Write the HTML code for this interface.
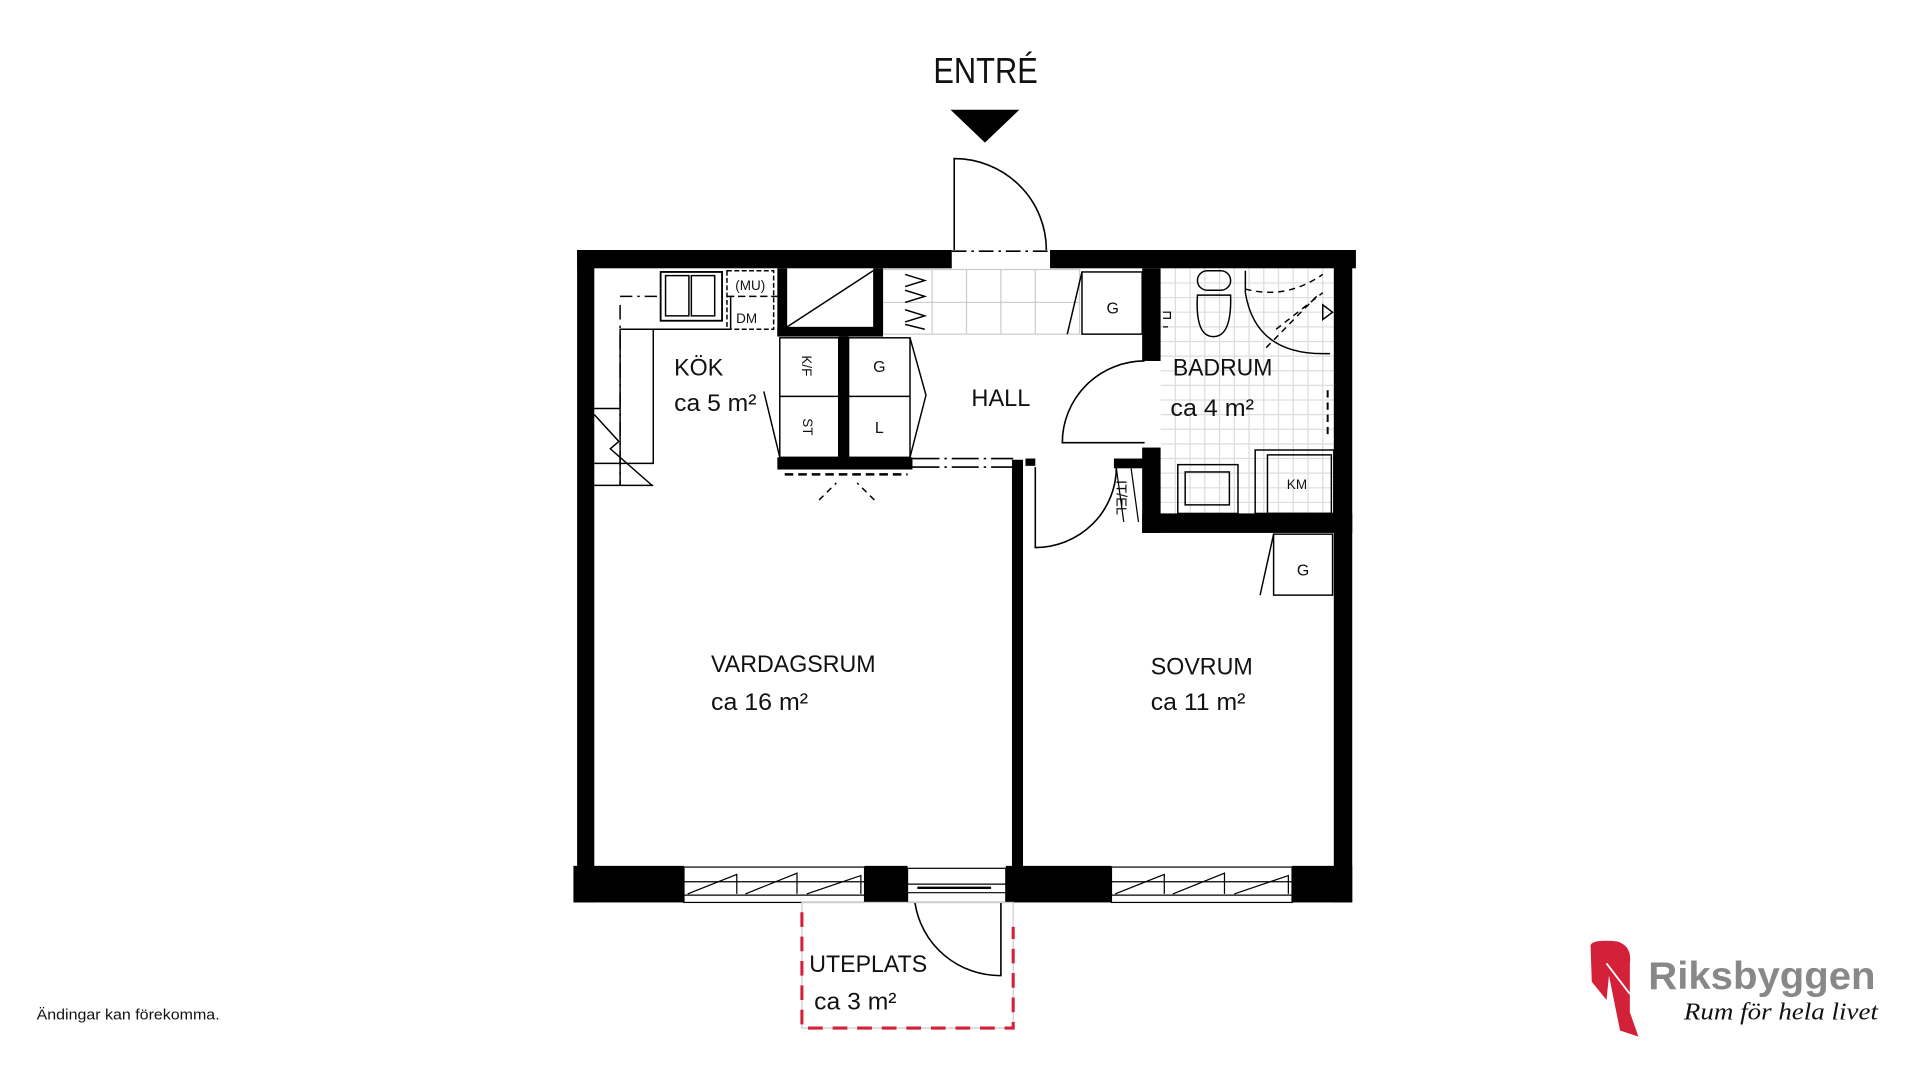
<!DOCTYPE html>
<html><head><meta charset="utf-8">
<style>
html,body{margin:0;padding:0;background:#fff;}
svg{display:block;}
text{font-family:"Liberation Sans Narrow","Liberation Sans",sans-serif;fill:#111;}
</style></head>
<body>
<svg width="1920" height="1080" viewBox="3.2 0 1563 885.6" preserveAspectRatio="none" xmlns="http://www.w3.org/2000/svg">
<rect x="0" y="0" width="1570" height="890" fill="#fff"/>

<text x="763" y="68" font-size="30" textLength="85" lengthAdjust="spacingAndGlyphs">ENTRÉ</text>
<polygon points="777,90 833,90 805,117" fill="#000"/>

<g stroke="#ccc" stroke-width="1" fill="none">
<rect x="722" y="221" width="160" height="53"/>
<line x1="722" y1="248" x2="882" y2="248"/>
<line x1="762" y1="221" x2="762" y2="274"/><line x1="790" y1="221" x2="790" y2="274"/>
<line x1="818" y1="221" x2="818" y2="274"/><line x1="846" y1="221" x2="846" y2="274"/>
</g>
<g stroke="#ddd" stroke-width="1">
<path d="M948 232H1089M948 244H1089M948 256H1089M948 268H1089M948 280H1089M948 292H1089M948 304H1089M948 316H1089M948 328H1089M948 340H1089M948 352H1089M948 364H1089M948 376H1089M948 388H1089M948 400H1089M948 412H1089"/>
<path d="M960 220V421M972 220V421M984 220V421M996 220V421M1008 220V421M1020 220V421M1032 220V421M1044 220V421M1056 220V421M1068 220V421M1080 220V421"/>
</g>

<g fill="#000">
<rect x="473" y="205" width="305" height="15"/>
<rect x="858" y="205" width="249" height="15"/>
<rect x="473" y="205" width="14" height="535"/>
<rect x="1089" y="205" width="15" height="535"/>
<rect x="470" y="710" width="90" height="30"/>
<rect x="707" y="710" width="35" height="30"/>
<rect x="822" y="710" width="86" height="30"/>
<rect x="1055" y="710" width="49" height="30"/>
<rect x="827" y="377" width="9" height="335"/>
<rect x="933" y="220" width="15" height="76"/>
<rect x="933" y="367" width="15" height="70"/>
<rect x="933" y="421" width="171" height="16"/>
<rect x="910" y="376" width="25" height="8"/>
<rect x="636" y="220" width="8" height="55"/>
<rect x="714" y="220" width="8" height="55"/>
<rect x="636" y="268" width="86" height="8"/>
<rect x="686" y="276" width="8" height="100"/>
<rect x="636" y="375" width="110" height="10"/>
<rect x="838" y="376" width="8" height="6"/>
</g>

<g fill="#fff" stroke="#000" stroke-width="1">
<rect x="560" y="711" width="147" height="29"/>
<rect x="908" y="711" width="147" height="29"/>
<rect x="742" y="712" width="80" height="28"/>
</g>
<g stroke="#000" stroke-width="1" fill="none">
<line x1="560" y1="723" x2="707" y2="723"/><line x1="560" y1="734" x2="707" y2="734"/>
<path d="M563 733L603 717V733M610 733L652 716V733M660 733L704 718V733"/>
<line x1="908" y1="723" x2="1055" y2="723"/><line x1="908" y1="734" x2="1055" y2="734"/>
<path d="M911 733L951 717V733M958 733L1000 716V733M1008 733L1052 718V733"/>
<line x1="742" y1="725" x2="822" y2="725"/><line x1="742" y1="732" x2="822" y2="732"/>
<line x1="750" y1="728" x2="810" y2="728" stroke-width="2"/>
</g>

<g stroke="#000" stroke-width="1.3" fill="none">
<path d="M780 205V130A75 75 0 0 1 855 205"/>
<line x1="778" y1="206" x2="858" y2="206" stroke-dasharray="12 4 2 4"/>
<path d="M935 363H868A67 67 0 0 1 935 296"/>
<path d="M846 383V449A66 66 0 0 0 912 383"/>
<path d="M818 740V800A70 70 0 0 1 748 740"/>
<line x1="746" y1="376" x2="828" y2="376" stroke-dasharray="22 4 2 4"/>
<line x1="746" y1="383" x2="828" y2="383" stroke-dasharray="22 4 2 4"/>
</g>

<g stroke="#000" stroke-width="1.2" fill="none">
<path d="M508 398V270H598V243"/>
<path d="M487 335H508M487 380H535V270M487 398H535"/>
<path d="M487 340L507 362L500 368L534 398" />
<line x1="508" y1="243" x2="540" y2="243" stroke-dasharray="10 4 2 4"/>
<line x1="508" y1="250" x2="508" y2="398" stroke-dasharray="12 5 2 5"/>
<rect x="541" y="223" width="50" height="40" stroke-width="1.5"/>
<rect x="545" y="226" width="19" height="33"/><rect x="566" y="226" width="19" height="33"/>
<rect x="595" y="222" width="38" height="48" stroke-dasharray="4 2"/>
<line x1="595" y1="243" x2="636" y2="243" stroke-dasharray="6 3"/>
<path d="M644 268L714 222"/>
<rect x="638" y="277" width="48" height="98"/>
<line x1="638" y1="325" x2="686" y2="325"/>
<rect x="694" y="277" width="50" height="98"/>
<line x1="694" y1="325" x2="744" y2="325"/>
<path d="M744 277L757 324L744 375"/>
<path d="M625 321L638 375"/>
<line x1="642" y1="389" x2="742" y2="389" stroke-dasharray="7 4" stroke-width="2"/>
<path d="M670 410L684 396M715 410L701 396" stroke-dasharray="5 4"/>
<path d="M740 225L756 230L740 235M740 238L756 243L740 248M740 254L756 259L740 264M740 266L756 270"/>
<rect x="884" y="223" width="49" height="51"/>
<line x1="884" y1="223" x2="872" y2="274"/>
</g>

<g stroke="#000" stroke-width="1.2" fill="none">
<rect x="978" y="222" width="27" height="16" rx="8"/>
<path d="M978 242Q976 276 991 276Q1006 276 1005 242Z"/>
<path d="M1017 222V240Q1025 290 1080 290H1086"/>
<path d="M1017 237Q1050 246 1080 225" stroke-dasharray="5 4"/>
<path d="M1034 285L1075 243M1042 270L1080 240" stroke-dasharray="5 4"/>
<path d="M1080 250L1088 256L1080 262Z"/>
<line x1="1084" y1="320" x2="1084" y2="360" stroke-dasharray="6 4" stroke-width="1.6"/>
<rect x="962" y="381" width="49" height="40"/>
<rect x="968" y="387" width="36" height="27"/>
<rect x="1025" y="369" width="64" height="52"/>
<rect x="1035" y="373" width="52" height="48"/>
<rect x="1040" y="438" width="48" height="50"/>
<line x1="1040" y1="438" x2="1029" y2="488"/>
<path d="M950 256h6v5h-6M950 268h4" stroke-width="1"/>
<path d="M912 384L918 428M924 384L930 428" stroke-width="1"/>
</g>

<rect x="656" y="740" width="172" height="103" fill="none" stroke="#ccc" stroke-width="1"/>
<path d="M656 748V843H828V760" fill="none" stroke="#d4213a" stroke-width="2.5" stroke-dasharray="12 8"/>

<g font-size="20">
<text x="552" y="308" textLength="40" lengthAdjust="spacingAndGlyphs">KÖK</text>
<text x="552" y="337" textLength="67" lengthAdjust="spacingAndGlyphs">ca 5 m²</text>
<text x="794" y="333" textLength="48" lengthAdjust="spacingAndGlyphs">HALL</text>
<text x="958" y="308" textLength="81" lengthAdjust="spacingAndGlyphs">BADRUM</text>
<text x="956" y="341" textLength="68" lengthAdjust="spacingAndGlyphs">ca 4 m²</text>
<text x="582" y="551" textLength="134" lengthAdjust="spacingAndGlyphs">VARDAGSRUM</text>
<text x="582" y="582" textLength="79" lengthAdjust="spacingAndGlyphs">ca 16 m²</text>
<text x="940" y="553" textLength="83" lengthAdjust="spacingAndGlyphs">SOVRUM</text>
<text x="940" y="582" textLength="77" lengthAdjust="spacingAndGlyphs">ca 11 m²</text>
<text x="662" y="797" textLength="96" lengthAdjust="spacingAndGlyphs">UTEPLATS</text>
<text x="666" y="828" textLength="67" lengthAdjust="spacingAndGlyphs">ca 3 m²</text>
</g>
<g font-size="13">
<text x="909" y="257" text-anchor="middle">G</text>
<text x="719" y="305" text-anchor="middle">G</text>
<text x="719" y="355" text-anchor="middle">L</text>
<text x="1064" y="472" text-anchor="middle">G</text>
</g>
<g font-size="11">
<text x="1059" y="401" text-anchor="middle">KM</text>
<text x="614" y="238" text-anchor="middle">(MU)</text>
<text x="611" y="265" text-anchor="middle">DM</text>
<text transform="translate(656,300) rotate(90)" text-anchor="middle">K/F</text>
<text transform="translate(657,350) rotate(90)" text-anchor="middle">ST</text>
<text transform="translate(912,408) rotate(90)" text-anchor="middle" font-size="12">IT/EL</text>
</g>
<text x="33" y="836" font-size="12" textLength="149" lengthAdjust="spacingAndGlyphs" style="font-family:'Liberation Sans',sans-serif">Ändingar kan förekomma.</text>

<path d="M1298 775Q1300 770 1320 772Q1332 776 1330 790V830L1337 850L1322 845L1313 800L1311 820L1299 805Z" fill="#d4213a"/>
<line x1="1311" y1="790" x2="1330" y2="815" stroke="#fff" stroke-width="1.5"/>
<text x="1345" y="811" font-size="32" font-weight="bold" textLength="185" lengthAdjust="spacingAndGlyphs" style="font-family:'Liberation Sans',sans-serif;fill:#888">Riksbyggen</text>
<text x="1374" y="836" font-size="20" font-style="italic" textLength="158" lengthAdjust="spacingAndGlyphs" style="font-family:'Liberation Serif',serif;fill:#111">Rum för hela livet</text>
</svg>
</body></html>
